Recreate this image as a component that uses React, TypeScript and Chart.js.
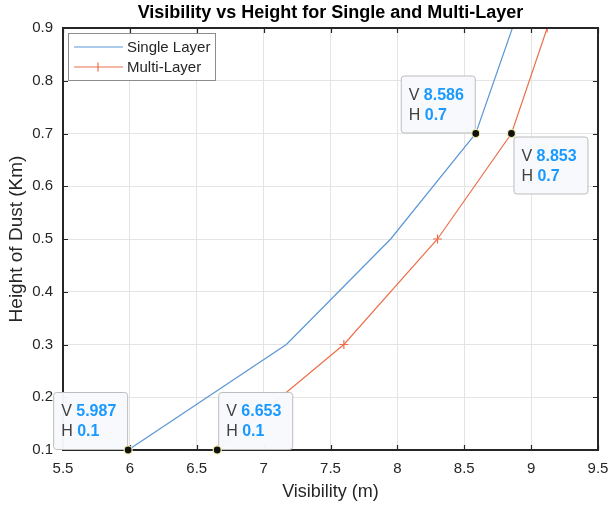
import React, { useEffect, useRef } from "react";
import { Chart, registerables } from "chart.js";

Chart.register(...registerables);

const heights = [0.1, 0.3, 0.5, 0.7, 0.9];
const singleLayer = [5.987, 7.17, 7.95, 8.586, 8.86];
const multiLayer = [6.653, 7.6, 8.3, 8.853, 9.12];
const xTickValues = [5.5, 6, 6.5, 7, 7.5, 8, 8.5, 9, 9.5];
const yTickValues = [0.1, 0.2, 0.3, 0.4, 0.5, 0.6, 0.7, 0.8, 0.9];
const seriesNames = ["Single Layer", "Multi-Layer"];
const seriesColors = ["#5b97d6", "#ec6f4c"];
// datatips: [series index, point index, placement]
const dataTips: [number, number, string][] = [
  [0, 3, "upLeft"],
  [1, 3, "downRight"],
  [0, 0, "upLeft"],
  [1, 0, "upRight"],
];

const FONT = "'Liberation Sans', Arial, Helvetica, sans-serif";
const TEXT = "#262626";

const overlayPlugin = {
  id: "matlabOverlay",
  afterDraw(chart: any) {
    const { ctx, chartArea } = chart;
    const { left, right, top, bottom } = chartArea;
    const xs = chart.scales.x;
    const ys = chart.scales.y;
    ctx.save();
    // inward ticks
    ctx.strokeStyle = TEXT;
    ctx.lineWidth = 1.2;
    const tl = 5;
    ctx.beginPath();
    xTickValues.forEach((v) => {
      const px = Math.round(xs.getPixelForValue(v)) + 0.5;
      ctx.moveTo(px, bottom);
      ctx.lineTo(px, bottom - tl);
      ctx.moveTo(px, top);
      ctx.lineTo(px, top + tl);
    });
    yTickValues.forEach((v) => {
      const py = Math.round(ys.getPixelForValue(v)) + 0.5;
      ctx.moveTo(left, py);
      ctx.lineTo(left + tl, py);
      ctx.moveTo(right, py);
      ctx.lineTo(right - tl, py);
    });
    ctx.stroke();
    // frame
    ctx.lineWidth = 2;
    ctx.strokeRect(left, top, right - left, bottom - top);

    // legend
    const lx = 68, ly = 33, lw = 147, lh = 47;
    ctx.fillStyle = "#ffffff";
    ctx.fillRect(lx, ly, lw, lh);
    ctx.strokeStyle = "#8c8c8c";
    ctx.lineWidth = 1;
    ctx.strokeRect(lx + 0.5, ly + 0.5, lw, lh);
    ctx.font = `15px ${FONT}`;
    ctx.textBaseline = "middle";
    ctx.textAlign = "left";
    seriesNames.forEach((name, i) => {
      const y = ly + 14 + i * 20;
      ctx.strokeStyle = seriesColors[i];
      ctx.lineWidth = 1.2;
      ctx.beginPath();
      ctx.moveTo(lx + 6, y);
      ctx.lineTo(lx + 55, y);
      if (i === 1) {
        const cx = lx + 30;
        ctx.moveTo(cx - 4.5, y);
        ctx.lineTo(cx + 4.5, y);
        ctx.moveTo(cx, y - 4.5);
        ctx.lineTo(cx, y + 4.5);
      }
      ctx.stroke();
      ctx.fillStyle = TEXT;
      ctx.fillText(name, lx + 59, y + 1);
    });

    // datatips
    const series = [singleLayer, multiLayer];
    const bw = 74, bh = 57;
    const dots: [number, number][] = [];
    dataTips.forEach(([s, idx, place]) => {
      const vx = series[s][idx];
      const vy = heights[idx];
      const px = xs.getPixelForValue(vx);
      const py = ys.getPixelForValue(vy);
      dots.push([px, py]);
      let bx = px - bw - 1, by = py - bh - 1;
      if (place === "downRight") { bx = px + 2; by = py + 3; }
      if (place === "upRight") { bx = px + 1; by = py - bh - 1; }
      ctx.beginPath();
      (ctx as any).roundRect(bx + 0.5, by + 0.5, bw, bh, 3);
      ctx.fillStyle = "rgba(248,249,252,0.97)";
      ctx.fill();
      ctx.strokeStyle = "#bdbdbd";
      ctx.lineWidth = 1;
      ctx.stroke();
      const lines: [string, string][] = [["V ", String(vx)], ["H ", String(vy)]];
      lines.forEach(([lab, val], k) => {
        const ty = by + 20 + k * 20;
        ctx.font = `16px ${FONT}`;
        ctx.fillStyle = "#404040";
        ctx.textAlign = "left";
        ctx.textBaseline = "middle";
        ctx.fillText(lab, bx + 8, ty);
        const w = ctx.measureText(lab).width;
        ctx.font = `bold 16px ${FONT}`;
        ctx.fillStyle = "#1a9aff";
        ctx.fillText(val, bx + 8 + w, ty);
      });
    });
    dots.forEach(([px, py]) => {
      ctx.beginPath();
      ctx.arc(px, py, 4, 0, Math.PI * 2);
      ctx.fillStyle = "#111111";
      ctx.fill();
      ctx.strokeStyle = "#f3f0a8";
      ctx.lineWidth = 1.2;
      ctx.stroke();
    });
    ctx.restore();
  },
};

export default function App() {
  const ref = useRef<HTMLCanvasElement | null>(null);
  useEffect(() => {
    if (!ref.current) return;
    const chart = new Chart(ref.current, {
      type: "scatter",
      data: {
        datasets: [
          {
            label: seriesNames[0],
            data: heights.map((h, i) => ({ x: singleLayer[i], y: h })),
            showLine: true,
            borderColor: seriesColors[0],
            backgroundColor: seriesColors[0],
            borderWidth: 1.2,
            pointRadius: 0,
          },
          {
            label: seriesNames[1],
            data: heights.map((h, i) => ({ x: multiLayer[i], y: h })),
            showLine: true,
            borderColor: seriesColors[1],
            backgroundColor: seriesColors[1],
            borderWidth: 1.2,
            pointStyle: "cross",
            pointRadius: 4.5,
            pointBorderWidth: 1.2,
          },
        ],
      },
      options: {
        responsive: false,
        animation: false,
        layout: { padding: { left: 0, right: 13, top: 0, bottom: 0 } },
        plugins: {
          legend: { display: false },
          tooltip: { enabled: false },
          title: {
            display: true,
            fullSize: false,
            text: "Visibility vs Height for Single and Multi-Layer",
            color: "#000000",
            font: { family: FONT, size: 18, weight: "bold" },
            padding: { top: 2, bottom: 4.4 },
          },
        },
        scales: {
          x: {
            type: "linear",
            min: 5.5,
            max: 9.5,
            afterBuildTicks: (s: any) => {
              s.ticks = xTickValues.map((v) => ({ value: v }));
            },
            afterFit: (s: any) => {
              s.height = 57;
              s.paddingLeft = 0;
              s.paddingRight = 0;
            },
            grid: { color: "#e4e4e4", lineWidth: 1, drawTicks: false },
            border: { display: false },
            ticks: {
              color: TEXT,
              font: { family: FONT, size: 15 },
              padding: 10,
              maxRotation: 0,
              callback: (v: any) => String(v),
            },
            title: {
              display: true,
              text: "Visibility (m)",
              color: TEXT,
              font: { family: FONT, size: 18 },
              padding: { top: 0, bottom: 4 },
            },
          },
          y: {
            type: "linear",
            min: 0.1,
            max: 0.9,
            afterBuildTicks: (s: any) => {
              s.ticks = yTickValues.map((v) => ({ value: v }));
            },
            afterFit: (s: any) => {
              s.width = 63;
              s.paddingTop = 0;
              s.paddingBottom = 0;
            },
            grid: { color: "#e4e4e4", lineWidth: 1, drawTicks: false },
            border: { display: false },
            ticks: {
              color: TEXT,
              font: { family: FONT, size: 15 },
              padding: 10,
              callback: (v: any) => String(Math.round(v * 10) / 10),
            },
            title: {
              display: true,
              text: "Height of Dust (Km)",
              color: TEXT,
              font: { family: FONT, size: 19 },
              padding: { top: 5, bottom: 0 },
            },
          },
        },
      },
      plugins: [overlayPlugin],
    });
    return () => chart.destroy();
  }, []);
  return (
    <div style={{ position: "absolute", left: 0, top: 0, width: 611, height: 507, background: "#ffffff" }}>
      <canvas ref={ref} width={611} height={507} />
    </div>
  );
}
